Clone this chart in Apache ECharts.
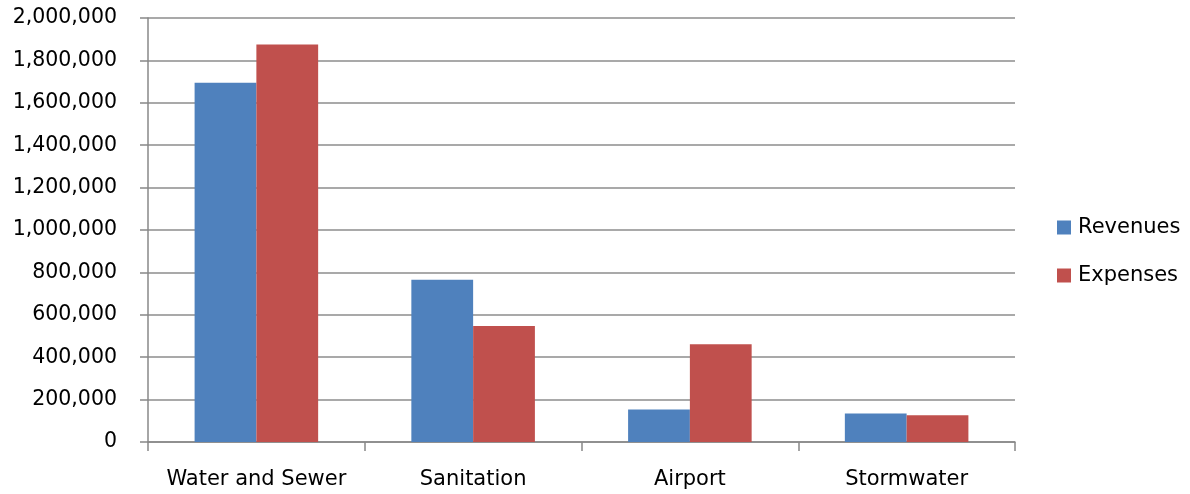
<!DOCTYPE html>
<html>
<head>
<meta charset="utf-8">
<script src="https://cdn.jsdelivr.net/npm/echarts@6/dist/echarts.min.js"></script>
<style>html,body{margin:0;padding:0;background:#fff;}#c{width:1190px;height:494px;}</style>
</head>
<body>
<div id="c"></div>
<script>
var categories = ["Water and Sewer", "Sanitation", "Airport", "Stormwater"];
var revenues = [1695000, 765000, 153000, 134000];
var expenses = [1875000, 547000, 461000, 126000];
var seriesNames = ["Revenues", "Expenses"];

var chart = echarts.init(document.getElementById('c'));
var font = 'DejaVu Sans';
chart.setOption({
  animation: false,
  backgroundColor: '#fff',
  grid: { left: 148, right: 175, top: 18, bottom: 52, containLabel: false },
  legend: {
    orient: 'vertical',
    left: 1052,
    top: 212,
    itemWidth: 14,
    itemHeight: 14,
    itemGap: 27,
    icon: 'rect',
    textStyle: { fontFamily: font, fontSize: 21, color: '#000', padding: [0, 0, 0, 2] },
    data: seriesNames
  },
  xAxis: {
    type: 'category',
    data: categories,
    axisLine: { lineStyle: { color: '#888', width: 1.5 } },
    axisTick: { show: true, interval: 0, length: 9, lineStyle: { color: '#888', width: 1.5 } },
    axisLabel: { interval: 0, hideOverlap: false, fontFamily: font, fontSize: 21, color: '#000', margin: 27 }
  },
  yAxis: {
    type: 'value',
    min: 0,
    max: 2000000,
    interval: 200000,
    axisLine: { show: true, lineStyle: { color: '#888', width: 1.5 } },
    axisTick: { show: true, length: 8, lineStyle: { color: '#888', width: 1.5 } },
    axisLabel: {
      fontFamily: font, fontSize: 20.5, color: '#000', margin: 31,
      formatter: function (v) { return v.toLocaleString('en-US'); }
    },
    splitLine: { lineStyle: { color: '#8c8c8c', width: 1.5 } }
  },
  series: [
    { name: seriesNames[0], type: 'bar', data: revenues, barGap: '0%', barCategoryGap: '43%', itemStyle: { color: '#4f81bd' } },
    { name: seriesNames[1], type: 'bar', data: expenses, barGap: '0%', barCategoryGap: '43%', itemStyle: { color: '#c0504d' } }
  ]
});
</script>
</body>
</html>
